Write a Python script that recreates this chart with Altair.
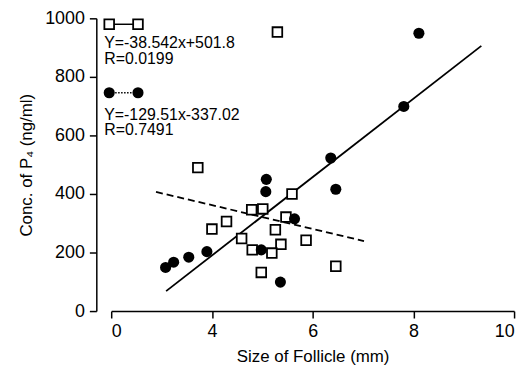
import altair as alt
import pandas as pd

# Open squares
sq_x = [3.72, 4.00, 4.29, 4.59, 4.79, 5.01, 4.80, 5.59, 5.26, 5.47, 5.37, 5.19, 4.98, 5.87, 6.46, 5.30]
sq_y = [490, 280, 306, 248, 346, 349, 209, 400, 278, 321, 228, 198, 132, 242, 153, 953]

# Filled circles
ci_x = [3.08, 3.24, 3.54, 3.90, 5.08, 5.07, 6.36, 6.46, 5.64, 4.98, 5.36, 8.11, 7.81]
ci_y = [149, 167, 184, 203, 450, 408, 523, 416, 315, 209, 99, 949, 699]

# Regression lines (end points)
solid_x = [3.09, 9.35]
solid_y = [68, 906]
dash_x = [2.89, 7.02]
dash_y = [407, 239]

x_ticks = [2, 4, 6, 8, 10]
x_tick_labels = ["0", "4", "6", "8", "10"]
y_ticks = [0, 200, 400, 600, 800, 1000]

legend_lines = ["Y=-38.542x+501.8", "R=0.0199", "Y=-129.51x-337.02", "R=0.7491"]

FONT = "Liberation Sans"

label_expr = " : ".join(
    [f"datum.value == {v} ? '{l}'" for v, l in zip(x_ticks, x_tick_labels)]
) + " : datum.label"

xs = alt.Scale(domain=[2, 10], nice=False, zero=False)
ys = alt.Scale(domain=[0, 1000], nice=False)

x_axis = alt.Axis(values=x_ticks, labelExpr=label_expr, tickSize=7, labelPadding=5,
                  titlePadding=8, domainWidth=1.5, tickWidth=1.5)
y_axis = alt.Axis(values=y_ticks, format="d", offset=15, tickSize=7, labelPadding=5,
                  titlePadding=9, domainWidth=1.5, tickWidth=1.5)

X = alt.X("x:Q", scale=xs, axis=x_axis, title="Size of Follicle (mm)")
Y = alt.Y("y:Q", scale=ys, axis=y_axis, title="Conc. of P\u2084 (ng/ml)")

sq_df = pd.DataFrame({"x": sq_x, "y": sq_y})
ci_df = pd.DataFrame({"x": ci_x, "y": ci_y})
solid_df = pd.DataFrame({"x": solid_x, "y": solid_y})
dash_df = pd.DataFrame({"x": dash_x, "y": dash_y})
one = pd.DataFrame({"a": [0]})

solid = alt.Chart(solid_df).mark_line(color="black", strokeWidth=1.8).encode(x=X, y=Y)
dashed = alt.Chart(dash_df).mark_line(color="black", strokeWidth=1.8, strokeDash=[7, 4]).encode(x=X, y=Y)
squares = alt.Chart(sq_df).mark_point(shape="square", filled=True, fill="white", stroke="black",
                                      strokeWidth=1.8, size=95, opacity=1).encode(x=X, y=Y)
circles = alt.Chart(ci_df).mark_circle(color="black", size=125, opacity=1).encode(x=X, y=Y)

# Legend glyphs (decorative, in pixels within the plot)
leg_rule1 = alt.Chart(one).mark_rule(color="black", strokeWidth=1.5).encode(
    x=alt.value(-2), x2=alt.value(27), y=alt.value(6))
leg_sq = alt.Chart(one).mark_point(shape="square", filled=True, fill="white", stroke="black",
                                   strokeWidth=1.8, size=95, opacity=1).encode(
    x=alt.value(-2), y=alt.value(6))
leg_sq2 = alt.Chart(one).mark_point(shape="square", filled=True, fill="white", stroke="black",
                                    strokeWidth=1.8, size=95, opacity=1).encode(
    x=alt.value(27), y=alt.value(6))
leg_rule2 = alt.Chart(one).mark_rule(color="black", strokeWidth=1.5, strokeDash=[1.5, 1.5]).encode(
    x=alt.value(-2), x2=alt.value(27), y=alt.value(75))
leg_c1 = alt.Chart(one).mark_circle(color="black", size=125, opacity=1).encode(
    x=alt.value(-2), y=alt.value(75))
leg_c2 = alt.Chart(one).mark_circle(color="black", size=125, opacity=1).encode(
    x=alt.value(27), y=alt.value(75))

text_y = [25, 41.5, 97, 113]
texts = [
    alt.Chart(one).mark_text(text=t, align="left", baseline="middle", font=FONT,
                             fontSize=16, color="black").encode(x=alt.value(-7), y=alt.value(ty))
    for t, ty in zip(legend_lines, text_y)
]

chart = alt.layer(solid, dashed, squares, circles, leg_rule1, leg_sq, leg_sq2,
                  leg_rule2, leg_c1, leg_c2, *texts).properties(
    width=406, height=295,
    autosize=alt.AutoSizeParams(type="none"),
    padding={"left": 104, "top": 9, "right": 10, "bottom": 60},
).configure_view(stroke=None).configure_axis(
    grid=False, domainColor="black", tickColor="black", labelColor="black",
    titleColor="black", labelFont=FONT, titleFont=FONT, labelFontSize=18,
    titleFontSize=17, titleFontWeight="normal",
)

chart.save("out.html", embed_options={"renderer": "svg", "actions": False})
